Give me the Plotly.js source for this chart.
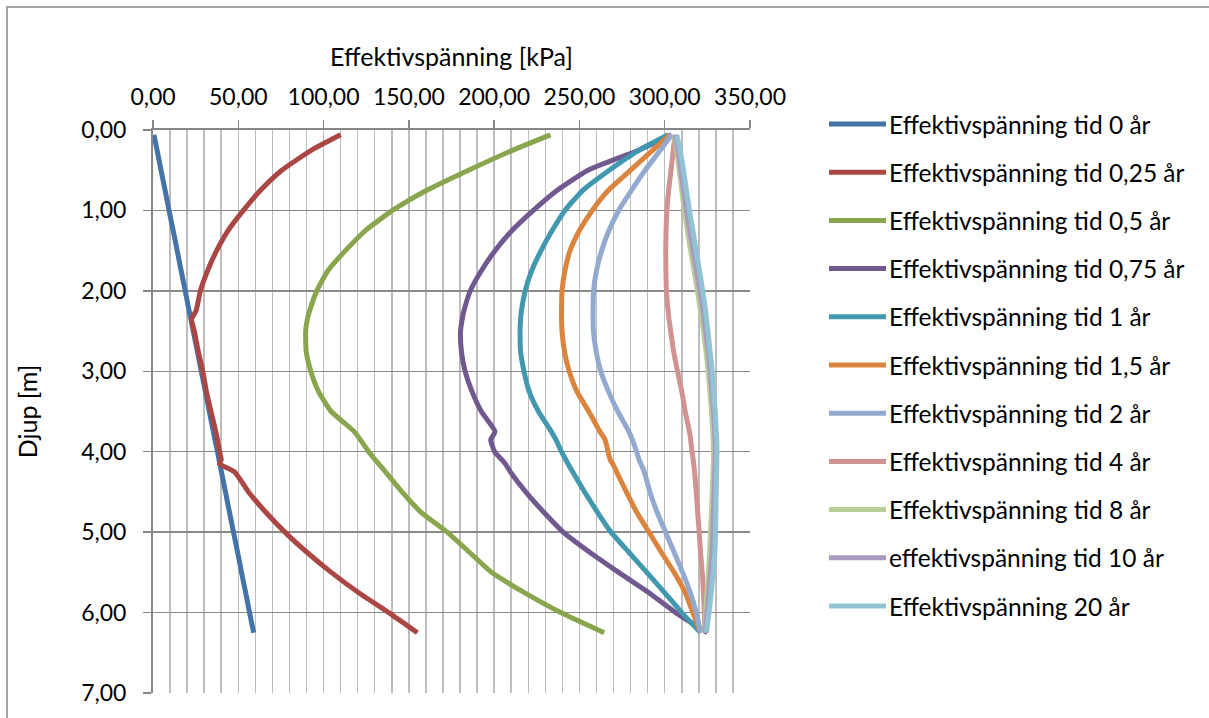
<!DOCTYPE html>
<html>
<head>
<meta charset="utf-8">
<script src="https://cdn.plot.ly/plotly-3.0.1.min.js"></script>
<style>
  html, body { margin: 0; padding: 0; background: #ffffff; }
  #wrap { position: relative; width: 1209px; height: 718px; overflow: hidden; }
  #chart { position: absolute; left: 0; top: 0; width: 1209px; height: 718px; }
  #frame { position: absolute; left: 6px; top: 6px; width: 1220px; height: 740px;
           border: 2px solid #a6a6a6; box-sizing: border-box; pointer-events: none; }
</style>
</head>
<body>
<div id="wrap">
  <div id="chart"></div>
  <div id="frame"></div>
</div>
<script>
// Depth below ground surface [m]
const depth = [0.06, 0.25, 0.5, 0.75, 1.0, 1.25, 1.5, 1.75, 2.0, 2.25, 2.35, 2.5, 2.75, 3.0, 3.25,
               3.5, 3.75, 3.85, 4.0, 4.1, 4.15, 4.25, 4.5, 4.75, 5.0, 5.25, 5.5, 5.75, 6.0, 6.25];

// Effective stress [kPa] at each depth, per consolidation time
const sigmaT0 = [0.5, 2.4, 4.7, 7.1, 9.4, 11.8, 14.2, 16.5, 18.9, 21.2, 22.2, 23.6, 26.0, 28.3, 30.7,
                 33.0, 35.4, 36.3, 37.8, 38.7, 39.2, 40.1, 42.5, 44.8, 47.2, 49.6, 51.9, 54.3, 56.6, 59.0];
const sigmaT025 = [110, 93, 75.5, 63, 53, 44, 37.3, 32, 27.8, 25.2, 22.6, 24.2, 26.5, 29.2, 31.3,
                   34, 36.8, 37.8, 39, 40, 39, 47.8, 56, 66, 77.3, 90.2, 104.5, 120.4, 138.2, 155];
const sigmaT05 = [233, 211, 185, 160.5, 140.5, 124.5, 112.8, 102.5, 96, 91.8, 90.5, 89.5, 89.8, 92.5, 97,
                  104.5, 118, 121.5, 126.5, 130.2, 132.3, 136.3, 146, 157, 172.5, 185.5, 198.5, 217.5, 239, 264.5];
const sigmaT075 = [304, 285, 255, 237, 223, 210.5, 200.5, 192.5, 186, 182.3, 181.3, 180.3, 180.8, 183, 187,
                   192.5, 200.5, 198, 200.3, 204.5, 206.5, 209.5, 218.5, 229, 240.5, 256, 273, 290.5, 306.4, 325];
const sigmaT1 = [302, 285, 267.5, 252, 241.5, 234, 227.5, 222, 218.2, 216, 215.5, 215.2, 215.5, 217.5, 220.5,
                 226, 233.5, 236.2, 239.5, 242, 243.3, 246, 253, 260.5, 268.5, 279, 289.5, 299.8, 310, 321];
const sigmaT15 = [303, 293, 280, 267, 257.5, 250, 244.5, 241.5, 239.8, 239.5, 239.5, 239.8, 241.2, 244, 248.5,
                  255.5, 262, 265, 266.8, 268, 269.5, 271.8, 277.5, 283.5, 290.8, 298, 305.5, 312, 316.5, 321];
const sigmaT2 = [304, 297.5, 288.5, 280.5, 273, 267.3, 263, 260, 258.3, 258, 258, 258.2, 259.8, 262.5, 267,
                 272.5, 279, 281, 283.5, 285, 286, 288, 291.3, 295.5, 300.5, 305.5, 310.5, 315, 318.5, 321];
const sigmaT4 = [306, 305, 303.7, 302.3, 301.3, 300.8, 300.6, 300.7, 301, 302, 302.5, 303.5, 305.2, 307.5, 310,
                 312, 314.5, 315.2, 316, 316.7, 317, 317.5, 318.5, 319.3, 320.2, 321, 322, 322.7, 323.2, 323.5];
const sigmaT8 = [305.5, 307, 308.5, 310, 311.5, 313.3, 315.2, 317.2, 319.2, 321, 321.7, 322.7, 324.2, 325.5, 326.5,
                 327.4, 328.2, 328.4, 328.6, 328.6, 328.5, 328.3, 327.9, 327.4, 326.9, 326.3, 325.6, 324.8, 324, 323.3];
const sigmaT10 = [306, 307.8, 309.5, 311, 312.7, 314.6, 316.6, 318.6, 320.6, 322.4, 323, 324, 325.4, 326.7, 327.6,
                  328.6, 329.3, 329.5, 329.7, 329.6, 329.5, 329.3, 329, 328.6, 328.2, 327.7, 326.8, 325.8, 324.8, 323.7];
const sigmaT20 = [307, 309, 311, 312.7, 314.5, 316.5, 318.4, 320.4, 322.3, 324, 324.5, 325.3, 326.6, 327.8, 328.6,
                  329.6, 330.2, 330.5, 330.6, 330.5, 330.5, 330.4, 330.2, 330, 329.8, 329.4, 328.4, 327.3, 326, 324.5];

const seriesNames = [
  "Effektivspänning tid 0 år",
  "Effektivspänning tid 0,25 år",
  "Effektivspänning tid 0,5 år",
  "Effektivspänning tid 0,75 år",
  "Effektivspänning tid 1 år",
  "Effektivspänning tid 1,5 år",
  "Effektivspänning tid 2 år",
  "Effektivspänning tid 4 år",
  "Effektivspänning tid 8 år",
  "effektivspänning tid 10 år",
  "Effektivspänning 20 år"
];
const seriesValues = [sigmaT0, sigmaT025, sigmaT05, sigmaT075, sigmaT1, sigmaT15,
                      sigmaT2, sigmaT4, sigmaT8, sigmaT10, sigmaT20];
const seriesColors = ["#4572A7", "#AA4643", "#89A54E", "#71588F", "#4198AF", "#DB843D",
                      "#93A9CF", "#D19392", "#B9CD96", "#A99BBD", "#92C3D5"];

const FONT = "Lato, 'Liberation Sans', sans-serif";
const TICK_FS = 23;
const TEXT_FS = 24.5;

// Plot area in pixels
const M = { l: 153, r: 459, t: 130, b: 25 };
const plotW = 1209 - M.l - M.r;
const plotH = 718 - M.t - M.b;

const traces = seriesValues.map((vals, i) => ({
  type: "scatter",
  mode: "lines",
  x: vals,
  y: depth,
  name: seriesNames[i],
  line: { color: seriesColors[i], width: 5, shape: "spline", smoothing: 0.5 },
  hoverinfo: "x+y+name"
}));

// Legend drawn as sample strokes plus labels, to the right of the plot
const legendTopPx = 124;
const legendStepPx = 48.2;
const shapes = [];
const annotations = [];
seriesNames.forEach((name, i) => {
  const py = legendTopPx + i * legendStepPx;
  const yp = 1 - (py - M.t) / plotH;
  shapes.push({
    type: "line", xref: "paper", yref: "paper",
    x0: (829 - M.l) / plotW, x1: (886 - M.l) / plotW, y0: yp, y1: yp,
    line: { color: seriesColors[i], width: 5 }
  });
  annotations.push({
    xref: "paper", yref: "paper",
    x: (887 - M.l) / plotW, y: yp, xanchor: "left", yanchor: "middle",
    text: name, showarrow: false,
    font: { family: FONT, size: TEXT_FS, color: "#000000" }
  });
});

const layout = {
  width: 1209, height: 718,
  margin: M,
  paper_bgcolor: "rgba(0,0,0,0)",
  plot_bgcolor: "#ffffff",
  showlegend: false,
  separators: ", ",
  font: { family: FONT, size: TICK_FS, color: "#000000" },
  xaxis: {
    side: "top",
    range: [0, 350],
    tick0: 0, dtick: 50,
    tickformat: ".2f",
    ticks: "outside", ticklen: 8, tickwidth: 1.5, tickcolor: "#868686",
    ticklabelstandoff: 6,
    showline: true, linecolor: "#868686", linewidth: 2,
    showgrid: true, gridcolor: "#bdbdbd", gridwidth: 1.5,
    minor: { dtick: 10, showgrid: true, gridcolor: "#bdbdbd", gridwidth: 1.5, ticks: "" },
    zeroline: false,
    tickfont: { family: FONT, size: TICK_FS, color: "#000000" },
    title: { text: "Effektivspänning [kPa]", standoff: 8,
             font: { family: FONT, size: TEXT_FS + 0.5, color: "#000000" } }
  },
  yaxis: {
    range: [7, 0],
    tick0: 0, dtick: 1,
    tickformat: ".2f",
    ticks: "outside", ticklen: 8, tickwidth: 1.5, tickcolor: "#868686",
    ticklabelstandoff: 12,
    showline: true, linecolor: "#868686", linewidth: 2,
    showgrid: true, gridcolor: "#8a8a8a", gridwidth: 1.5,
    zeroline: false,
    tickfont: { family: FONT, size: TICK_FS, color: "#000000" },
    title: { text: "Djup [m]", standoff: 36,
             font: { family: FONT, size: TEXT_FS + 0.5, color: "#000000" } }
  },
  shapes: shapes,
  annotations: annotations
};

Plotly.newPlot("chart", traces, layout, { staticPlot: true, displayModeBar: false });
</script>
</body>
</html>
